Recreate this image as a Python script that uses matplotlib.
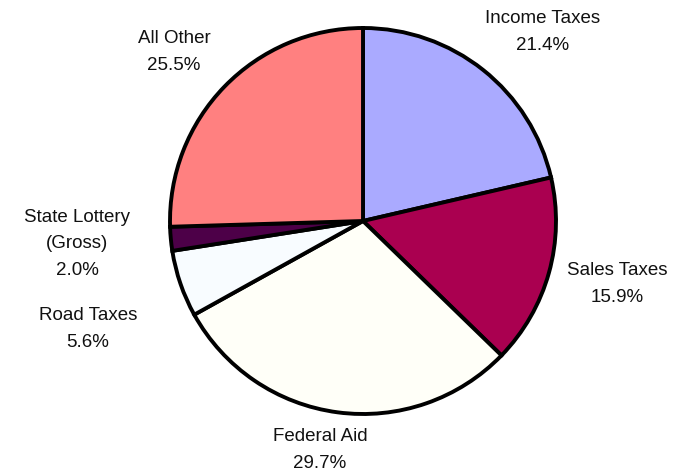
import matplotlib
matplotlib.use('Agg')
import matplotlib.pyplot as plt

# revenue shares, clockwise from 12 o'clock
sources = ['Income Taxes', 'Sales Taxes', 'Federal Aid', 'Road Taxes',
           'State Lottery\n(Gross)', 'All Other']
shares = [21.4, 15.9, 29.7, 5.6, 2.0, 25.5]
colors = ['#AAAAFF', '#AA0050', '#FFFFF8', '#F8FCFF', '#4D0048', '#FF8080']

# label centres in pixel coords (x from left, y from top)
label_pos = [(543, 32), (617, 284), (320, 450), (88, 329), (77, 244), (174, 52)]

W, H = 694, 476
fig = plt.figure(figsize=(W / 100, H / 100), dpi=100)
ax = fig.add_axes([0, 0, 1, 1])
ax.set_xlim(0, W)
ax.set_ylim(0, H)
ax.set_aspect('equal')
ax.axis('off')

ax.pie(shares, colors=colors, startangle=90, counterclock=False,
       center=(363, H - 221), radius=193,
       wedgeprops=dict(edgecolor='black', linewidth=2.8))
ax.set_xlim(0, W)
ax.set_ylim(0, H)

for name, val, (x, y) in zip(sources, shares, label_pos):
    ax.text(x, H - y, '%s\n%.1f%%' % (name, val), ha='center', va='center',
            fontsize=13.5, family='Liberation Sans', linespacing=1.72,
            color='#111111')

fig.savefig('out.png', dpi=100, facecolor='white')
